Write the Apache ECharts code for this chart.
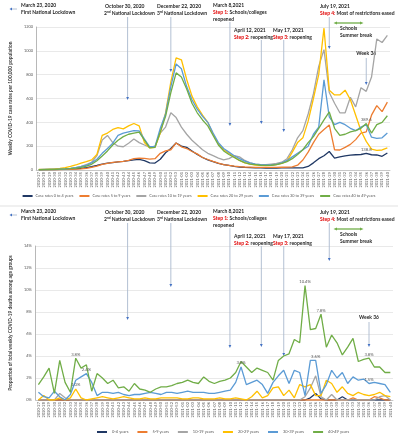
<!DOCTYPE html>
<html>
<head>
<meta charset="utf-8">
<script src="https://cdn.jsdelivr.net/npm/echarts@6/dist/echarts.min.js"></script>
<style>
html, body { margin: 0; padding: 0; background: #fff; }
#main { width: 398px; height: 440px; }
</style>
</head>
<body>
<div id="main"></div>
<script>
/* Weekly case rates (top) and share of weekly deaths (bottom) by age group */

var weeks = ['2020-27','2020-28','2020-29','2020-30','2020-31','2020-32','2020-33','2020-34','2020-35','2020-36',
  '2020-37','2020-38','2020-39','2020-40','2020-41','2020-42','2020-43','2020-44','2020-45','2020-46',
  '2020-47','2020-48','2020-49','2020-50','2020-51','2020-52','2020-53',
  '2021-01','2021-02','2021-03','2021-04','2021-05','2021-06','2021-07','2021-08','2021-09','2021-10',
  '2021-11','2021-12','2021-13','2021-14','2021-15','2021-16','2021-17','2021-18','2021-19','2021-20',
  '2021-21','2021-22','2021-23','2021-24','2021-25','2021-26','2021-27','2021-28','2021-29','2021-30',
  '2021-31','2021-32','2021-33','2021-34','2021-35','2021-36','2021-37','2021-38','2021-39','2021-40'];

var caseNames = ['Case rates 0 to 4 years','Case rates 5 to 9 years','Case rates 10 to 19 years',
  'Case rates 20 to 29 years','Case rates 30 to 39 years','Case rates 40 to 49 years'];
var deathNames = ['0-4 years','5-9 years','10-19 years','20-29 years','30-39 years','40-49 years'];
var colors = ['#203864','#ed7d31','#a5a5a5','#ffc000','#5b9bd5','#70ad47'];

// case rates per 100,000
var cases0to4 = [2,3,3,4,5,6,8,10,14,20, 28,38,50,58,62,68,72,78,85,90, 78,60,58,90,145,180,227,200,190,160,
  130,105,85,70,55,45,38,30,25,22, 20,18,17,16,16,16,17,17,18,18, 17,30,60,95,120,155,100,110,118,125,
  128,130,138.8,128,126,115,143];
var cases5to9 = [2,2,3,3,4,5,6,8,10,14, 22,32,48,56,64,68,72,80,95,100, 98,92,95,140,160,170,227,195,180,155,
  135,105,88,72,58,45,38,32,28,25, 24,22,22,22,22,22,23,24,26,40, 84,150,230,300,340,378,170,168,190,215,
  255,310,320,460,540,490,570];
var cases10to19 = [3,4,5,6,8,10,14,20,30,45, 65,120,252,290,230,200,195,225,260,230, 210,190,200,310,360,480,440,360,300,250,
  210,170,140,120,100,85,95,120,110,80, 60,50,45,45,50,55,65,95,170,270, 330,470,640,870,1010,650,560,480,480,610,
  530,690,660,780,1100,1070,1130];
var cases20to29 = [5,6,8,10,14,20,30,42,58,70, 85,130,290,310,340,355,345,370,390,370, 230,185,190,310,480,740,940,925,760,620,
  530,460,400,300,220,170,140,110,80,60, 50,42,38,36,38,45,55,75,150,230, 270,410,600,800,1190,670,630,630,670,590,
  460,330,240,175,165,168,185];
var cases30to39 = [3,4,5,6,8,10,14,20,28,40, 60,90,140,180,225,290,310,320,330,328, 260,195,195,350,470,700,890,850,700,590,
  510,450,400,310,230,180,150,120,95,75, 60,50,45,42,42,48,60,80,110,140, 170,200,300,360,756,445,380,400,380,350,
  330,360,380,275,265,270,310];
var cases40to49 = [2,3,4,5,7,9,12,16,22,32, 48,78,118,160,210,250,280,300,310,318, 250,185,190,320,450,650,815,780,680,560,
  480,420,370,290,210,160,130,105,80,62, 50,45,40,38,40,45,55,70,95,130, 170,230,280,350,420,487,350,290,300,320,
  330,350,389.6,310,380,400,455];

// proportion of weekly deaths, %
var deaths0to4 = [0,0,0,0,0,0,0,0,0,0, 0,0,0,0,0,0,0,0,0,0, 0,0,0,0,0,0,0,0,0,0,
  0,0,0,0,0,0,0,0,0,0, 0,0,0,0,0,0,0,0,0,0, 0,0.2,0.6,0.1,0,0,0,0.3,0,0, 0,0,0,0,0,0,0];
var deaths5to9 = [0,0,0,0,0,0,0,0,0,0, 0,0,0,0,0,0,0,0,0,0, 0,0,0,0,0,0,0,0,0,0,
  0,0,0,0,0,0,0,0,0,0, 0,0,0,0,0,0,0,0,0,0, 0,0,0,0,0,0,0,0,0,0.2, 0,0,0,0.3,0.2,0,0];
var deaths10to19 = [0,0,0,0,0.6,0.2,0,0,0,0, 0,0,0,0,0,0,0,0,0,0, 0,0,0,0,0,0,0,0,0,0,
  0,0,0,0,0,0,0,0,0,0, 0,0,0,0,0,0,0,0,0,0, 0.3,1.1,2.2,0.3,0,0.5,0,0,0,0, 0,0,0,0,0.3,0.4,0];
var deaths20to29 = [0,0.4,0,0,0.2,0,0.2,1.0,0.2,0, 0.1,0.2,0.3,0.2,0.1,0.2,0.3,0.2,0.1,0.1, 0.2,0.1,0.1,0.2,0.2,0.2,0.2,0.1,0.1,0.2,
  0.2,0.1,0.1,0.1,0.2,0.1,0.1,0.2,0.1,0, 0.3,0.8,0.2,0.4,1.1,1.2,0.4,0.9,0.2,1.4, 1.2,1.4,0.4,0.4,1.8,1.5,0.7,1.2,0.6,0.4,
  0.7,0.5,0.4,0.5,0.7,0.4,0.3];
var deaths30to39 = [0.7,0.3,0.2,0.8,0.3,0,0.5,1.8,2.1,2.4, 1.6,0.4,0.7,0.7,0.6,0.7,0.5,0.4,0.5,0.5, 0.6,0.7,0.6,0.5,0.7,0.7,0.6,0.7,0.8,0.7,
  0.7,0.7,0.6,0.6,0.7,0.8,0.9,1.6,3.0,1.4, 1.6,1.8,1.4,0.6,1.6,2.2,2.7,1.5,2.7,2.5, 0.4,3.6,3.6,0.6,1.4,2.7,2.0,2.5,1.5,2.1,
  1.8,1.9,1.5,1.6,1.5,1.4,0.7];
var deaths40to49 = [1.4,2.1,2.9,0.6,3.6,1.6,0.7,3.8,2.9,3.2, 0.8,2.4,2.0,1.5,1.8,1.1,1.2,0.8,1.5,1.0, 0.9,0.7,1.0,1.2,1.2,1.3,1.5,1.6,1.8,1.6,
  1.5,2.1,1.7,1.5,1.7,1.8,2.0,2.5,3.5,3.0, 2.5,2.9,2.7,2.5,1.8,3.6,4.0,4.2,5.5,5.2, 10.4,6.4,6.5,7.8,4.8,5.9,5.2,4.1,4.8,5.6,
  3.5,3.7,3.8,3.0,3.0,2.5,2.5];

var caseSeries = [cases0to4, cases5to9, cases10to19, cases20to29, cases30to39, cases40to49];
var deathSeries = [deaths0to4, deaths5to9, deaths10to19, deaths20to29, deaths30to39, deaths40to49];

// which points carry a value label: [series index, week]
var caseLabels = [[0,'2021-36'], [5,'2021-36']];
var deathLabels = [[5,'2020-34'], [4,'2020-36'], [3,'2020-34'], [4,'2021-12'], [5,'2021-24'],
  [5,'2021-27'], [4,'2021-26'], [5,'2021-36'], [4,'2021-36']];

var FONT = 'Lato';

function buildSeries(names, arrays, gi, labels, fmt) {
  return arrays.map(function (arr, k) {
    var data = arr.map(function (v, i) {
      for (var j = 0; j < labels.length; j++) {
        if (labels[j][0] == k && labels[j][1] == weeks[i]) {
          return { value: v, label: { show: true } };
        }
      }
      return v;
    });
    return {
      name: names[k], type: 'line', xAxisIndex: gi, yAxisIndex: gi, data: data,
      symbol: 'circle', symbolSize: 0, showSymbol: true, showAllSymbol: true,
      lineStyle: { width: 1.3, color: colors[k] }, itemStyle: { color: colors[k] },
      label: { position: 'top', distance: 2, fontSize: 4.2, color: '#595959', fontFamily: FONT, formatter: fmt },
      emphasis: { disabled: true }
    };
  });
}

function xAxisFor(gi) {
  return {
    gridIndex: gi, type: 'category', data: weeks,
    axisLabel: { interval: 0, rotate: 90, fontSize: 4, color: '#595959', margin: 2, fontFamily: FONT },
    axisTick: { show: false },
    axisLine: { lineStyle: { color: '#bfbfbf', width: 0.8 } }
  };
}

var chart = echarts.init(document.getElementById('main'));

var option = {
  animation: false,
  textStyle: { fontFamily: FONT },
  grid: [
    { left: 22, right: 8, top: 27, height: 143 },
    { left: 27, right: 5, top: 246, height: 154 }
  ],
  legend: [
    { data: caseNames, left: 'center', width: 398, padding: 0, top: 194, icon: 'rect', itemWidth: 10, itemHeight: 2, itemGap: 6,
      textStyle: { fontSize: 3.8, color: '#595959', fontFamily: FONT, padding: [0, 0, 0, -2] } },
    { data: deathNames, left: 97, top: 430, padding: 0, icon: 'rect', itemWidth: 10, itemHeight: 2, itemGap: 9,
      textStyle: { fontSize: 4, color: '#595959', fontFamily: FONT } }
  ],
  xAxis: [xAxisFor(0), xAxisFor(1)],
  yAxis: [
    { gridIndex: 0, type: 'value', min: 0, max: 1200, interval: 200,
      name: 'Weekly COVID-19 case rates per 100,000 population', nameLocation: 'middle', nameGap: 14,
      nameTextStyle: { fontSize: 4.8, fontWeight: 'bold', color: '#404040' },
      axisLabel: { fontSize: 4, color: '#595959', margin: 3, formatter: function (v) { return String(v); } },
      axisLine: { show: true, lineStyle: { color: '#a6a6a6', width: 0.8 } },
      splitLine: { lineStyle: { color: '#e3e3e3', width: 0.8 } } },
    { gridIndex: 1, type: 'value', min: 0, max: 14, interval: 2,
      name: 'Proportion of total weekly COVID-19 deaths among age groups', nameLocation: 'middle', nameGap: 19,
      nameTextStyle: { fontSize: 4.8, fontWeight: 'bold', color: '#404040' },
      axisLabel: { fontSize: 4, color: '#595959', margin: 4, formatter: '{value}%' },
      axisLine: { show: true, lineStyle: { color: '#a6a6a6', width: 0.8 } },
      splitLine: { lineStyle: { color: '#e3e3e3', width: 0.8 } } }
  ],
  series: buildSeries(caseNames, caseSeries, 0, caseLabels, function (p) { return p.value.toFixed(1); })
    .concat(buildSeries(deathNames, deathSeries, 1, deathLabels, function (p) { return p.value.toFixed(1) + '%'; }))
};

chart.setOption(option);

// ---- annotations (arrows + event texts) ----
var ARROW = '#4472c4', LINE = '#aab9ce';
var rich = {
  r: { fill: '#e00000', fontSize: 5, fontWeight: 'bold', fontFamily: FONT },
  s: { fill: '#262626', fontSize: 3.2, fontWeight: 'bold', fontFamily: FONT, verticalAlign: 'top' }
};

function txt(x, y, s, align) {
  return { type: 'text', x: x, y: y, silent: true,
    style: { text: s, fill: '#262626', fontSize: 5, fontWeight: 'bold', fontFamily: FONT,
      verticalAlign: 'middle', align: align || 'left', rich: rich } };
}
function downArrow(x, y1, y2) {
  return [
    { type: 'line', silent: true, shape: { x1: x, y1: y1, x2: x, y2: y2 - 2 }, style: { stroke: LINE, lineWidth: 0.9 } },
    { type: 'polygon', silent: true, shape: { points: [[x - 1.4, y2 - 3], [x + 1.4, y2 - 3], [x, y2]] }, style: { fill: ARROW } }
  ];
}

function xOf(axis, week) { return chart.convertToPixel({ xAxisIndex: axis }, week); }

function panelNotes(off, ends, wkAxis, wkTextY, wkY1) {
  var el = [];
  // first lockdown: left-pointing arrow (before the chart range)
  el.push({ type: 'line', silent: true, shape: { x1: 17, y1: 9 + off, x2: 12, y2: 9 + off }, style: { stroke: LINE, lineWidth: 0.9 } });
  el.push({ type: 'polygon', silent: true, shape: { points: [[12, 7.6 + off], [12, 10.4 + off], [9.5, 9 + off]] }, style: { fill: ARROW } });
  el.push(txt(21, 5 + off, 'March 23, 2020'), txt(21, 12 + off, 'First National Lockdown'));

  el.push(txt(105, 6 + off, 'October 30, 2020'), txt(104, 13 + off, '2{s|nd} National Lockdown'));
  el = el.concat(downArrow(xOf(0, '2020-44') - 1, 17 + off, ends[0]));

  el.push(txt(157, 6 + off, 'December 22, 2020'), txt(157, 13 + off, '3{s|rd} National Lockdown'));
  el = el.concat(downArrow(xOf(0, '2020-52'), 17 + off, ends[1]));

  el.push(txt(213, 5 + off, 'March 8,2021'), txt(213, 12 + off, '{r|Step 1:} Schools/colleges'), txt(213, 19 + off, 'reopened'));
  el = el.concat(downArrow(xOf(0, '2021-10') + 1, 22 + off, ends[2]));

  el.push(txt(234, 30 + off, 'April 12, 2021'), txt(234, 37 + off, '{r|Step 2:} reopening'));
  el = el.concat(downArrow(xOf(0, '2021-15') + 6, 40 + off, ends[3]));

  el.push(txt(273, 30 + off, 'May 17, 2021'), txt(273, 37 + off, '{r|Step 3:} reopening'));
  el = el.concat(downArrow(xOf(0, '2021-20') + 2, 40 + off, ends[4]));

  el.push(txt(320, 6 + off, 'July 19, 2021'), txt(320, 13 + off, '{r|Step 4:} Most of restrictions eased'));
  el = el.concat(downArrow(xOf(0, '2021-29'), 17 + off, ends[5]));

  // school summer break
  el.push({ type: 'line', silent: true, shape: { x1: 336, y1: 23 + off, x2: 361, y2: 23 + off }, style: { stroke: '#70ad47', lineWidth: 1.3 } });
  el.push({ type: 'polygon', silent: true, shape: { points: [[337, 21.4 + off], [337, 24.6 + off], [333.5, 23 + off]] }, style: { fill: '#70ad47' } });
  el.push({ type: 'polygon', silent: true, shape: { points: [[360, 21.4 + off], [360, 24.6 + off], [363.5, 23 + off]] }, style: { fill: '#70ad47' } });
  el.push(txt(340, 28 + off, 'Schools'), txt(340, 35 + off, 'Summer break'));

  var wx = xOf(wkAxis, '2021-36');
  el.push(txt(wx, wkTextY, 'Week 36', 'center'));
  el = el.concat(downArrow(wx, wkY1, ends[6]));
  return el;
}

var elements = panelNotes(0, [100, 72, 126, 124, 132, 49, 85], 0, 53, 58)
  .concat(panelNotes(206, [320, 287, 348, 347, 356, 261, 347], 1, 317, 322));
elements.push({ type: 'line', silent: true, shape: { x1: 0, y1: 206, x2: 398, y2: 206 }, style: { stroke: '#d9d9d9', lineWidth: 0.8 } });

chart.setOption({ graphic: { elements: elements } });
</script>
</body>
</html>
